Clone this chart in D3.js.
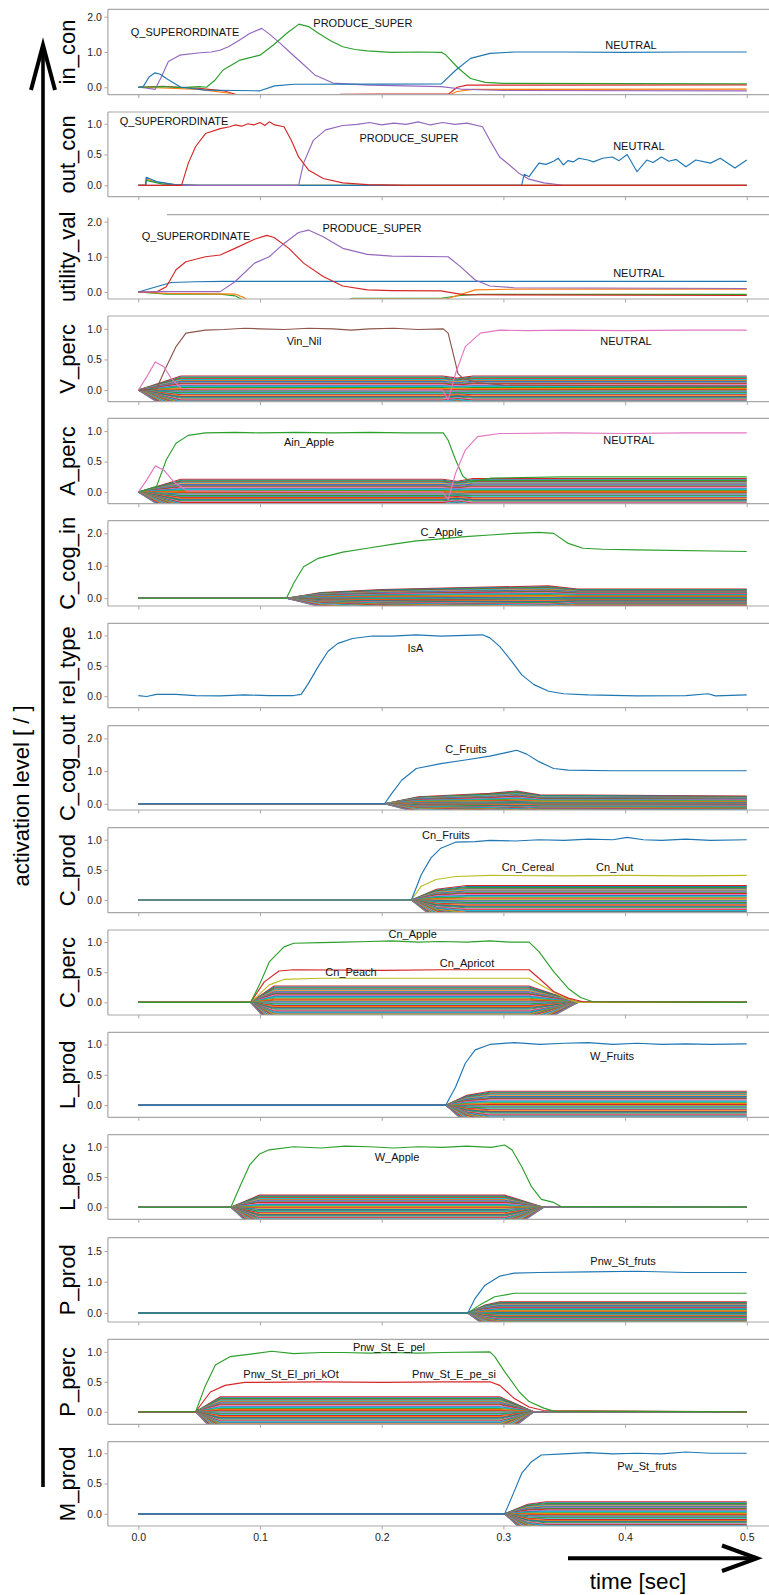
<!DOCTYPE html>
<html><head><meta charset="utf-8">
<script src="https://cdn.jsdelivr.net/npm/d3@7"></script>
<style>body{margin:0;background:#fff}svg{display:block}</style>
</head><body>
<svg id="c" width="769" height="1595"></svg>
<script>
// ---------------- DATA ----------------
const timeTicks = [0, 0.1, 0.2, 0.3, 0.4, 0.5];
const timeTickLabels = ["0.0", "0.1", "0.2", "0.3", "0.4", "0.5"];
const panelNames = ["in_con","out_con","utility_val","V_perc","A_perc","C_cog_in","rel_type","C_cog_out","C_prod","C_perc","L_prod","L_perc","P_prod","P_perc","M_prod"];
const yTickValues = [[0,1,2],[0,0.5,1],[0,1,2],[0,0.5,1],[0,0.5,1],[0,1,2],[0,0.5,1],[0,1,2],[0,0.5,1],[0,0.5,1],[0,0.5,1],[0,0.5,1],[0,1,1.5],[0,0.5,1],[0,0.5,1]];

// in_con
const inConQ = [[0,0],[0.006,-0.02],[0.0137,-0.06],[0.019,0.3],[0.0247,0.73],[0.034,0.91],[0.0507,0.98],[0.06,1.0],[0.067,1.05],[0.074,1.15],[0.081,1.29],[0.0918,1.53],[0.1014,1.67],[0.108,1.5],[0.1164,1.25],[0.125,0.98],[0.133,0.73],[0.145,0.35],[0.16,0.12],[0.19,0.06],[0.249,0.02],[0.265,-0.05],[0.3,-0.09],[0.5,-0.1]];
const inConP = [[0,0],[0.02,0.02],[0.035,-0.01],[0.05,0.02],[0.056,0.0],[0.063,0.2],[0.0697,0.49],[0.0836,0.77],[0.1,0.91],[0.111,1.2],[0.122,1.53],[0.132,1.79],[0.14,1.72],[0.148,1.53],[0.158,1.32],[0.168,1.15],[0.178,1.07],[0.188,1.03],[0.208,0.99],[0.23,1.0],[0.249,0.99],[0.2526,0.92],[0.263,0.54],[0.273,0.25],[0.285,0.14],[0.3,0.11],[0.5,0.1]];
const inConN = [[0,0],[0.004,0.02],[0.009,0.3],[0.0137,0.41],[0.018,0.37],[0.023,0.25],[0.035,0.0],[0.055,-0.08],[0.08,-0.09],[0.1,-0.1],[0.112,0.04],[0.128,0.085],[0.2,0.09],[0.249,0.095],[0.261,0.49],[0.273,0.82],[0.289,0.96],[0.309,1.0],[0.35,1.0],[0.4,0.99],[0.45,1.0],[0.5,1.0]];
const inConR = [[0,0],[0.02,0.03],[0.05,-0.03],[0.07,-0.1],[0.085,-0.25],[0.16,-0.3],[0.166,-0.2],[0.2,-0.19],[0.255,-0.19],[0.262,0.0],[0.27,0.06],[0.5,0.07]];
const inConO = [[0,0],[0.02,-0.02],[0.05,-0.06],[0.075,-0.17],[0.083,-0.3],[0.25,-0.3],[0.262,-0.12],[0.275,-0.06],[0.5,-0.05]];

// out_con
const outConQ = [[0,0],[0.0355,0],[0.0411,0.36],[0.0471,0.63],[0.0552,0.84],[0.0673,0.92],[0.075,0.95],[0.0794,0.98],[0.085,0.96],[0.09,1.0],[0.095,0.98],[0.1,1.02],[0.104,0.97],[0.1076,1.03],[0.112,0.98],[0.1197,0.95],[0.1257,0.73],[0.1317,0.46],[0.1398,0.25],[0.1519,0.11],[0.168,0.04],[0.1882,0.01],[0.22,0],[0.5,0]];
const outConP = [[0,0],[0.1317,0],[0.1358,0.36],[0.1438,0.73],[0.1539,0.9],[0.168,0.97],[0.18,0.99],[0.19,1.02],[0.2,0.98],[0.21,1.01],[0.22,0.99],[0.23,1.03],[0.24,0.98],[0.25,1.02],[0.26,0.99],[0.27,1.01],[0.2828,0.95],[0.2889,0.73],[0.2969,0.46],[0.305,0.33],[0.3131,0.19],[0.3211,0.1],[0.3332,0.04],[0.3493,0],[0.5,0]];
const outConN = [[0,0],[0.006,0],[0.0065,0.13],[0.015,0.06],[0.03,0.01],[0.05,0],[0.315,0],[0.3171,0.18],[0.3211,0.14],[0.3292,0.36],[0.335,0.34],[0.3413,0.39],[0.345,0.44],[0.3493,0.33],[0.353,0.4],[0.3574,0.38],[0.362,0.44],[0.3695,0.41],[0.374,0.38],[0.3815,0.44],[0.3896,0.46],[0.395,0.4],[0.4017,0.5],[0.4098,0.22],[0.4178,0.41],[0.423,0.37],[0.4299,0.46],[0.436,0.39],[0.442,0.42],[0.45,0.3],[0.4581,0.41],[0.4702,0.36],[0.4782,0.44],[0.4903,0.28],[0.5,0.41]];
const outConO = [[0,0],[0.006,0],[0.0065,0.1],[0.015,0.05],[0.03,0.01],[0.05,0],[0.5,0]];
const outConG = [[0,0],[0.006,0],[0.0065,0.08],[0.02,0.02],[0.04,0],[0.5,0]];

// utility_val
const utilQ = [[0,0],[0.0149,0],[0.023,0.15],[0.031,0.63],[0.0391,0.86],[0.0552,1.0],[0.0673,1.05],[0.0794,1.24],[0.0955,1.5],[0.1056,1.61],[0.1116,1.55],[0.1237,1.24],[0.1358,0.82],[0.1519,0.44],[0.168,0.17],[0.1882,0.06],[0.2083,0.04],[0.2486,0.03],[0.2607,-0.04],[0.2687,-0.08],[0.5,-0.1]];
const utilP = [[0,0],[0.02,0.01],[0.0673,0.01],[0.0794,0.29],[0.0955,0.82],[0.1076,1.0],[0.1197,1.38],[0.1317,1.69],[0.1398,1.76],[0.1519,1.57],[0.168,1.24],[0.1882,1.07],[0.2083,1.02],[0.2546,1.0],[0.2647,0.72],[0.2768,0.34],[0.2889,0.17],[0.309,0.12],[0.5,0.1]];
const utilN = [[0,0],[0.0149,0.15],[0.027,0.27],[0.047,0.29],[0.07,0.3],[0.5,0.3]];
const utilG = [[0,0],[0.023,-0.06],[0.0673,-0.06],[0.0794,-0.11],[0.0875,-0.25],[0.17,-0.25],[0.176,-0.18],[0.2486,-0.18],[0.2647,-0.1],[0.28,-0.07],[0.5,-0.07]];
const utilO = [[0,0],[0.023,-0.04],[0.0794,-0.06],[0.087,-0.16],[0.092,-0.3],[0.17,-0.3],[0.176,-0.2],[0.253,-0.2],[0.2768,0.06],[0.309,0.08],[0.5,0.08]];

// V_perc
const vPercVin = [[0,0],[0.0149,0.02],[0.023,0.38],[0.031,0.71],[0.0391,0.93],[0.0552,0.98],[0.07,0.99],[0.0874,1.01],[0.1,1.0],[0.12,0.99],[0.14,1.01],[0.16,1.0],[0.175,0.98],[0.19,1.0],[0.21,1.01],[0.23,0.99],[0.2506,1.0],[0.2546,0.93],[0.2587,0.6],[0.2627,0.27],[0.2667,0.19],[0.28,0.12],[0.3,0.08],[0.5,0.06]];
const vPercN = [[0,0],[0.007,0.22],[0.014,0.46],[0.021,0.38],[0.027,0.19],[0.035,0.03],[0.05,0.02],[0.25,0.0],[0.2546,-0.16],[0.2607,0.27],[0.2687,0.71],[0.281,0.93],[0.297,0.98],[0.32,0.97],[0.35,0.98],[0.4,0.97],[0.45,0.98],[0.5,0.98]];

// A_perc
const aPercA = [[0,0],[0.0149,0.09],[0.023,0.53],[0.031,0.8],[0.041,0.93],[0.0552,0.97],[0.08,0.98],[0.1,0.97],[0.13,0.98],[0.16,0.97],[0.19,0.98],[0.22,0.97],[0.2506,0.97],[0.2546,0.85],[0.2607,0.53],[0.2667,0.26],[0.273,0.17],[0.29,0.23],[0.35,0.25],[0.5,0.25]];
const aPercN = [[0,0],[0.007,0.2],[0.014,0.43],[0.021,0.36],[0.029,0.17],[0.04,0.02],[0.25,0],[0.2546,-0.125],[0.2607,0.31],[0.2687,0.69],[0.2788,0.91],[0.297,0.96],[0.35,0.97],[0.4,0.96],[0.45,0.97],[0.5,0.97]];

// C_cog_in
const cCogInApple = [[0,0],[0.1217,0],[0.1277,0.46],[0.1358,0.97],[0.1479,1.23],[0.168,1.42],[0.1882,1.54],[0.2083,1.66],[0.2284,1.77],[0.2486,1.83],[0.2687,1.9],[0.2889,1.95],[0.309,2.0],[0.3292,2.03],[0.3413,2.0],[0.3533,1.69],[0.3654,1.54],[0.3815,1.51],[0.4098,1.49],[0.5,1.44]];

// rel_type
const relIsA = [[0,0.01],[0.0068,-0.005],[0.0149,0.03],[0.031,0.03],[0.0471,0.01],[0.0673,0.005],[0.0874,0.02],[0.1076,0.01],[0.1277,0.01],[0.1338,0.03],[0.1398,0.21],[0.1479,0.49],[0.1559,0.74],[0.164,0.87],[0.1761,0.95],[0.1922,0.99],[0.2083,0.99],[0.2284,1.01],[0.2486,0.99],[0.2687,1.0],[0.2828,1.01],[0.2889,0.96],[0.2969,0.82],[0.307,0.57],[0.3151,0.35],[0.3251,0.19],[0.3372,0.08],[0.3493,0.04],[0.3695,0.02],[0.4098,0.005],[0.45,0.01],[0.4682,0.04],[0.4742,0.005],[0.5,0.02]];

// C_cog_out
const cCogOutFruits = [[0,0],[0.2023,0],[0.2083,0.32],[0.2164,0.72],[0.2284,1.08],[0.2486,1.23],[0.2687,1.34],[0.2889,1.46],[0.305,1.59],[0.311,1.64],[0.3191,1.52],[0.3292,1.29],[0.3413,1.08],[0.3533,1.03],[0.3896,1.01],[0.5,1.01]];

// C_prod
const cProdFruits = [[0,0],[0.2244,0],[0.2325,0.42],[0.2405,0.7],[0.2486,0.86],[0.2607,0.96],[0.2768,0.97],[0.2889,0.99],[0.31,0.98],[0.3292,1.0],[0.35,0.99],[0.37,1.01],[0.39,1.0],[0.4017,1.04],[0.415,1.0],[0.4299,0.99],[0.45,1.01],[0.47,0.99],[0.5,1.0]];
const cProdCereal = [[0,0],[0.2244,0],[0.2325,0.23],[0.2446,0.34],[0.2607,0.39],[0.2889,0.41],[0.35,0.4],[0.4,0.41],[0.45,0.4],[0.5,0.41]];

// C_perc
const cPercApple = [[0,0],[0.0923,0],[0.0995,0.29],[0.1076,0.67],[0.1197,0.92],[0.1277,0.98],[0.15,0.99],[0.168,1.0],[0.19,1.01],[0.2083,1.02],[0.23,1.0],[0.2486,1.01],[0.27,1.0],[0.2889,1.02],[0.305,1.0],[0.3211,1.0],[0.3292,0.84],[0.3413,0.51],[0.3533,0.23],[0.3634,0.08],[0.3735,0.01],[0.5,0]];
const cPercPeach = [[0,0],[0.0923,0],[0.1035,0.34],[0.1156,0.52],[0.1277,0.54],[0.2,0.53],[0.25,0.54],[0.3211,0.54],[0.3292,0.4],[0.3413,0.18],[0.3533,0.07],[0.3654,0.01],[0.5,0]];
const cPercApricot = [[0,0],[0.0923,0],[0.1076,0.29],[0.1197,0.38],[0.15,0.4],[0.3211,0.4],[0.3332,0.26],[0.3493,0.08],[0.3614,0],[0.5,0]];

// L_prod
const lProdFruits = [[0,0],[0.2526,0],[0.2607,0.3],[0.2687,0.69],[0.2768,0.91],[0.2889,1.0],[0.309,1.03],[0.33,1.0],[0.35,1.02],[0.3695,1.03],[0.39,1.0],[0.4098,1.02],[0.43,1.0],[0.45,1.01],[0.47,1.0],[0.5,1.01]];

// L_perc
const lPercApple = [[0,0],[0.0761,0],[0.0834,0.34],[0.0915,0.7],[0.0995,0.88],[0.1076,0.95],[0.1277,1.0],[0.15,0.98],[0.17,1.01],[0.19,1.0],[0.21,0.98],[0.23,1.0],[0.25,0.99],[0.27,1.01],[0.29,0.99],[0.301,1.03],[0.307,0.95],[0.3151,0.67],[0.3231,0.34],[0.3312,0.13],[0.3413,0.08],[0.3473,0.01],[0.5,0]];

// P_prod
const pProdFruts = [[0,0],[0.2707,0],[0.2768,0.47],[0.2849,0.89],[0.2969,1.09],[0.309,1.14],[0.3292,1.15],[0.3695,1.16],[0.4098,1.17],[0.45,1.15],[0.5,1.15]];
const pProdSecond = [[0,0],[0.2707,0],[0.2808,0.26],[0.2929,0.52],[0.309,0.63],[0.4,0.63],[0.5,0.63]];

// P_perc
const pPercPel = [[0,0],[0.0471,0],[0.0552,0.44],[0.0633,0.78],[0.0753,0.92],[0.0955,0.97],[0.1096,1.01],[0.1277,0.97],[0.15,0.99],[0.168,0.99],[0.19,0.98],[0.2083,0.99],[0.23,0.98],[0.25,0.99],[0.2889,1.0],[0.2929,0.92],[0.301,0.67],[0.3131,0.33],[0.3211,0.17],[0.3332,0.06],[0.3413,0.01],[0.5,0]];
const pPercKOt = [[0,0],[0.0471,0],[0.0592,0.33],[0.0713,0.44],[0.0874,0.49],[0.15,0.5],[0.2,0.49],[0.25,0.5],[0.2889,0.5],[0.297,0.44],[0.309,0.22],[0.3211,0.08],[0.3332,0.02],[0.5,0]];

// M_prod
const mProdFruts = [[0,0],[0.301,0],[0.307,0.28],[0.3151,0.67],[0.3231,0.86],[0.3312,0.97],[0.3493,0.99],[0.3695,1.01],[0.39,0.99],[0.4098,1.0],[0.43,0.99],[0.45,1.02],[0.47,1.0],[0.5,1.0]];

// dense bands of the many other units: relative spread, colours, band limits and time envelope
const bandFractions = [1.0,0.975,0.955,0.93,0.915,0.89,0.87,0.848,0.826,0.81,0.785,0.762,0.745,0.72,0.70,0.676,0.655,0.636,0.61,0.594,0.57,0.55,0.526,0.505,0.49,0.465,0.44,0.42,0.40,0.376,0.355,0.33,0.31,0.29,0.265,0.24,0.215,0.19,0.16,0.13,0.10,0.07,0.04,0.0];
const bandColorIdx = [3,0,2,3,9,1,0,4,2,3,6,0,9,2,1,3,8,0,4,2,9,3,1,5,0,2,6,3,9,0,1,2,4,3,8,0,9,6,2,1,3,0,4,7];
const bandLimits = {
  V_perc:[0.23,-0.45], A_perc:[0.21,-0.45], C_cog_in:[0.38,-0.6], C_cog_out:[0.39,-0.5],
  C_prod:[0.24,-0.45], C_perc:[0.27,-0.45], L_prod:[0.23,-0.45], L_perc:[0.2,-0.45],
  P_prod:[0.36,-0.6], P_perc:[0.25,-0.45], M_prod:[0.2,-0.45]
};
const bandEnvelope = {
  V_perc:[[0,0],[0.035,1],[0.25,1],[0.262,0.85],[0.275,1],[0.5,1]],
  A_perc:[[0,0],[0.035,1],[0.25,1],[0.262,0.85],[0.275,1.05],[0.5,1.05]],
  C_cog_in:[[0,0],[0.1217,0],[0.15,0.45],[0.2,0.7],[0.26,0.85],[0.337,1],[0.361,0.75],[0.5,0.75]],
  C_cog_out:[[0,0],[0.2023,0],[0.23,0.55],[0.289,0.82],[0.311,1],[0.33,0.7],[0.5,0.6]],
  C_prod:[[0,0],[0.2244,0],[0.245,0.75],[0.27,1],[0.5,1]],
  C_perc:[[0,0],[0.0923,0],[0.1116,1],[0.321,1],[0.3614,0],[0.5,0]],
  L_prod:[[0,0],[0.2526,0],[0.27,0.7],[0.289,1],[0.5,1]],
  L_perc:[[0,0],[0.0761,0],[0.0995,1],[0.301,1],[0.333,0],[0.5,0]],
  P_prod:[[0,0],[0.2707,0],[0.285,0.7],[0.297,1],[0.5,1]],
  P_perc:[[0,0],[0.0471,0],[0.0673,1],[0.297,1],[0.325,0],[0.5,0]],
  M_prod:[[0,0],[0.301,0],[0.32,0.8],[0.335,1],[0.5,1]]
};

// named curves per panel: [panel, series, colour index]
const namedSeries = [
  ["in_con", inConR, 3], ["in_con", inConO, 1], ["in_con", inConQ, 4], ["in_con", inConP, 2], ["in_con", inConN, 0],
  ["out_con", outConO, 1], ["out_con", outConG, 2], ["out_con", outConN, 0], ["out_con", outConP, 4], ["out_con", outConQ, 3],
  ["utility_val", utilG, 2], ["utility_val", utilO, 1], ["utility_val", utilN, 0], ["utility_val", utilQ, 3], ["utility_val", utilP, 4],
  ["V_perc", vPercVin, 5], ["V_perc", vPercN, 6],
  ["A_perc", aPercA, 2], ["A_perc", aPercN, 6],
  ["C_cog_in", cCogInApple, 2],
  ["rel_type", relIsA, 0],
  ["C_cog_out", cCogOutFruits, 0],
  ["C_prod", cProdCereal, 8], ["C_prod", cProdFruits, 0],
  ["C_perc", cPercApricot, 8], ["C_perc", cPercPeach, 3], ["C_perc", cPercApple, 2],
  ["L_prod", lProdFruits, 0],
  ["L_perc", lPercApple, 2],
  ["P_prod", pProdSecond, 2], ["P_prod", pProdFruts, 0],
  ["P_perc", pPercKOt, 3], ["P_perc", pPercPel, 2],
  ["M_prod", mProdFruts, 0]
];

// annotations: [panel, text, time, value]
const annotations = [
  ["in_con","Q_SUPERORDINATE",0.0384,1.575],["in_con","PRODUCE_SUPER",0.1845,1.83],["in_con","NEUTRAL",0.4048,1.19],
  ["out_con","Q_SUPERORDINATE",0.0294,1.049],["out_con","PRODUCE_SUPER",0.2224,0.768],["out_con","NEUTRAL",0.4113,0.638],
  ["utility_val","Q_SUPERORDINATE",0.0474,1.59],["utility_val","PRODUCE_SUPER",0.192,1.81],["utility_val","NEUTRAL",0.4113,0.548],
  ["V_perc","Vin_Nil",0.1362,0.808],["V_perc","NEUTRAL",0.4007,0.803],
  ["A_perc","Ain_Apple",0.1403,0.825],["A_perc","NEUTRAL",0.4032,0.853],
  ["C_cog_in","C_Apple",0.2493,2.05],
  ["rel_type","IsA",0.2277,0.80],
  ["C_cog_out","C_Fruits",0.2693,1.69],
  ["C_prod","Cn_Fruits",0.2528,1.083],["C_prod","Cn_Cereal",0.3202,0.541],["C_prod","Cn_Nut",0.3915,0.541],
  ["C_perc","Cn_Apple",0.2255,1.128],["C_perc","Cn_Peach",0.1748,0.4975],["C_perc","Cn_Apricot",0.2701,0.647],
  ["L_prod","W_Fruits",0.3892,0.812],
  ["L_perc","W_Apple",0.2126,0.835],
  ["P_prod","Pnw_St_fruts",0.3983,1.342],
  ["P_perc","Pnw_St_E_pel",0.206,1.083],["P_perc","Pnw_St_El_pri_kOt",0.1255,0.628],["P_perc","Pnw_St_E_pe_si",0.2594,0.628],
  ["M_prod","Pw_St_fruts",0.418,0.791]
];

// ---------------- LAYOUT ----------------
const palette = ["#1f77b4","#ff7f0e","#2ca02c","#d62728","#9467bd","#8c564b","#e377c2","#7f7f7f","#bcbd22","#17becf"];
const panelLayout = [
  {dom:[-0.21,2.21], rng:[94.7,9.3]},
  {dom:[-0.185,1.19], rng:[196.7,112]},
  {dom:[-0.2,2.2], rng:[299,214.6], topFrom:167},
  {dom:[-0.19,1.21], rng:[401.7,316]},
  {dom:[-0.19,1.21], rng:[503.7,418.3]},
  {dom:[-0.24,2.39], rng:[606,520.7]},
  {dom:[-0.19,1.2], rng:[707.7,623.3]},
  {dom:[-0.19,2.39], rng:[810,725.7]},
  {dom:[-0.21,1.2], rng:[912.7,827.7]},
  {dom:[-0.21,1.2], rng:[1015,930]},
  {dom:[-0.2,1.2], rng:[1117.3,1032.3]},
  {dom:[-0.2,1.2], rng:[1219.3,1134.7]},
  {dom:[-0.29,0,1,1.5,1.72], rng:[1322,1313,1281.7,1251,1237.7]},
  {dom:[-0.21,1.21], rng:[1424.3,1339.3]},
  {dom:[-0.2,1.19], rng:[1526,1441.7]}
];

const svg = d3.select("#c");
svg.append("rect").attr("width",769).attr("height",1595).attr("fill","#fff");
const x = d3.scaleLinear().domain([-0.025,0.525]).range([107.9,777.2]);
const FONT = "'Liberation Sans', Arial, Helvetica, sans-serif";
const frameColor = "#a8a8a8";
const line = d3.line();

panelNames.forEach((name, pi) => {
  const L = panelLayout[pi];
  const y = d3.scaleLinear().domain(L.dom).range(L.rng);
  const top = L.rng[L.rng.length-1], bottom = L.rng[0];
  const g = svg.append("g");
  const clipId = "clip" + pi;
  svg.append("clipPath").attr("id", clipId).append("rect")
    .attr("x", x.range()[0]).attr("y", top).attr("width", x.range()[1]-x.range()[0]).attr("height", bottom-top);
  const plot = g.append("g").attr("clip-path", `url(#${clipId})`);
  const toPx = d => [x(d[0]), y(d[1])];

  if (bandLimits[name]) {
    const [hi, lo] = bandLimits[name];
    const env = bandEnvelope[name];
    bandFractions.forEach((f, i) => {
      const level = lo + f*(hi-lo);
      const pts = env.map(e => [e[0], level*e[1]]);
      plot.append("path").attr("d", line(pts.map(toPx)))
        .attr("fill","none").attr("stroke", palette[bandColorIdx[i]]).attr("stroke-width",1.1);
    });
  }
  namedSeries.filter(s => s[0]===name).forEach(s => {
    plot.append("path").attr("d", line(s[1].map(toPx)))
      .attr("fill","none").attr("stroke", palette[s[2]]).attr("stroke-width",1.15)
      .attr("stroke-linejoin","round");
  });

  const x0 = x.range()[0], x1 = x.range()[1];
  g.append("line").attr("x1", L.topFrom || x0).attr("x2", x1).attr("y1", top).attr("y2", top)
    .attr("stroke", frameColor).attr("stroke-width",1.2);
  g.append("line").attr("x1", x0).attr("x2", x1).attr("y1", bottom).attr("y2", bottom)
    .attr("stroke", frameColor).attr("stroke-width",1.2);
  g.append("line").attr("x1", x0).attr("x2", x0).attr("y1", L.topFrom ? top+3 : top).attr("y2", bottom)
    .attr("stroke", frameColor).attr("stroke-width",1.2);

  const ya = g.append("g").attr("transform", `translate(${x0},0)`)
    .call(d3.axisLeft(y).tickValues(yTickValues[pi]).tickFormat(d3.format(".1f")).tickSize(3.5).tickPadding(2.5));
  ya.select(".domain").remove();
  ya.selectAll("line").attr("stroke", frameColor);
  ya.selectAll("text").attr("font-family", FONT).attr("font-size", 10.5).attr("fill", "#222");

  const xa = g.append("g").attr("transform", `translate(0,${bottom})`)
    .call(d3.axisBottom(x).tickValues(timeTicks).tickSize(3.5).tickPadding(4)
      .tickFormat((d,i) => pi === panelNames.length-1 ? timeTickLabels[i] : ""));
  xa.select(".domain").remove();
  xa.selectAll("line").attr("stroke", frameColor);
  xa.selectAll("text").attr("font-family", FONT).attr("font-size", 10.5).attr("fill", "#222");

  annotations.filter(a => a[0]===name).forEach(a => {
    g.append("text").attr("x", x(a[2])).attr("y", y(a[3]))
      .attr("text-anchor","middle").attr("dominant-baseline","central")
      .attr("font-family", FONT).attr("font-size", 11).attr("fill","#111").text(a[1]);
  });

  const cy = (top + bottom)/2;
  svg.append("text").attr("transform", `translate(75,${cy}) rotate(-90)`)
    .attr("text-anchor","middle").attr("font-family", FONT).attr("font-size", 22).attr("fill","#000")
    .text(name);
});

svg.append("line").attr("x1",43).attr("x2",43).attr("y1",1487).attr("y2",46)
  .attr("stroke","#000").attr("stroke-width",3.6);
svg.append("polyline").attr("points","31,90 43,45 55,90").attr("fill","none")
  .attr("stroke","#000").attr("stroke-width",4);
svg.append("text").attr("transform","translate(29,796) rotate(-90)").attr("text-anchor","middle")
  .attr("font-family", FONT).attr("font-size",22).attr("fill","#000").text("activation level [ / ]");

svg.append("line").attr("x1",568).attr("x2",755).attr("y1",1558.3).attr("y2",1558.3)
  .attr("stroke","#000").attr("stroke-width",4);
svg.append("polyline").attr("points","722,1545.5 757,1558.3 722,1571").attr("fill","none")
  .attr("stroke","#000").attr("stroke-width",4);
svg.append("text").attr("x",638).attr("y",1589).attr("text-anchor","middle")
  .attr("font-family", FONT).attr("font-size",22.5).attr("fill","#000").text("time [sec]");
</script>
</body></html>
